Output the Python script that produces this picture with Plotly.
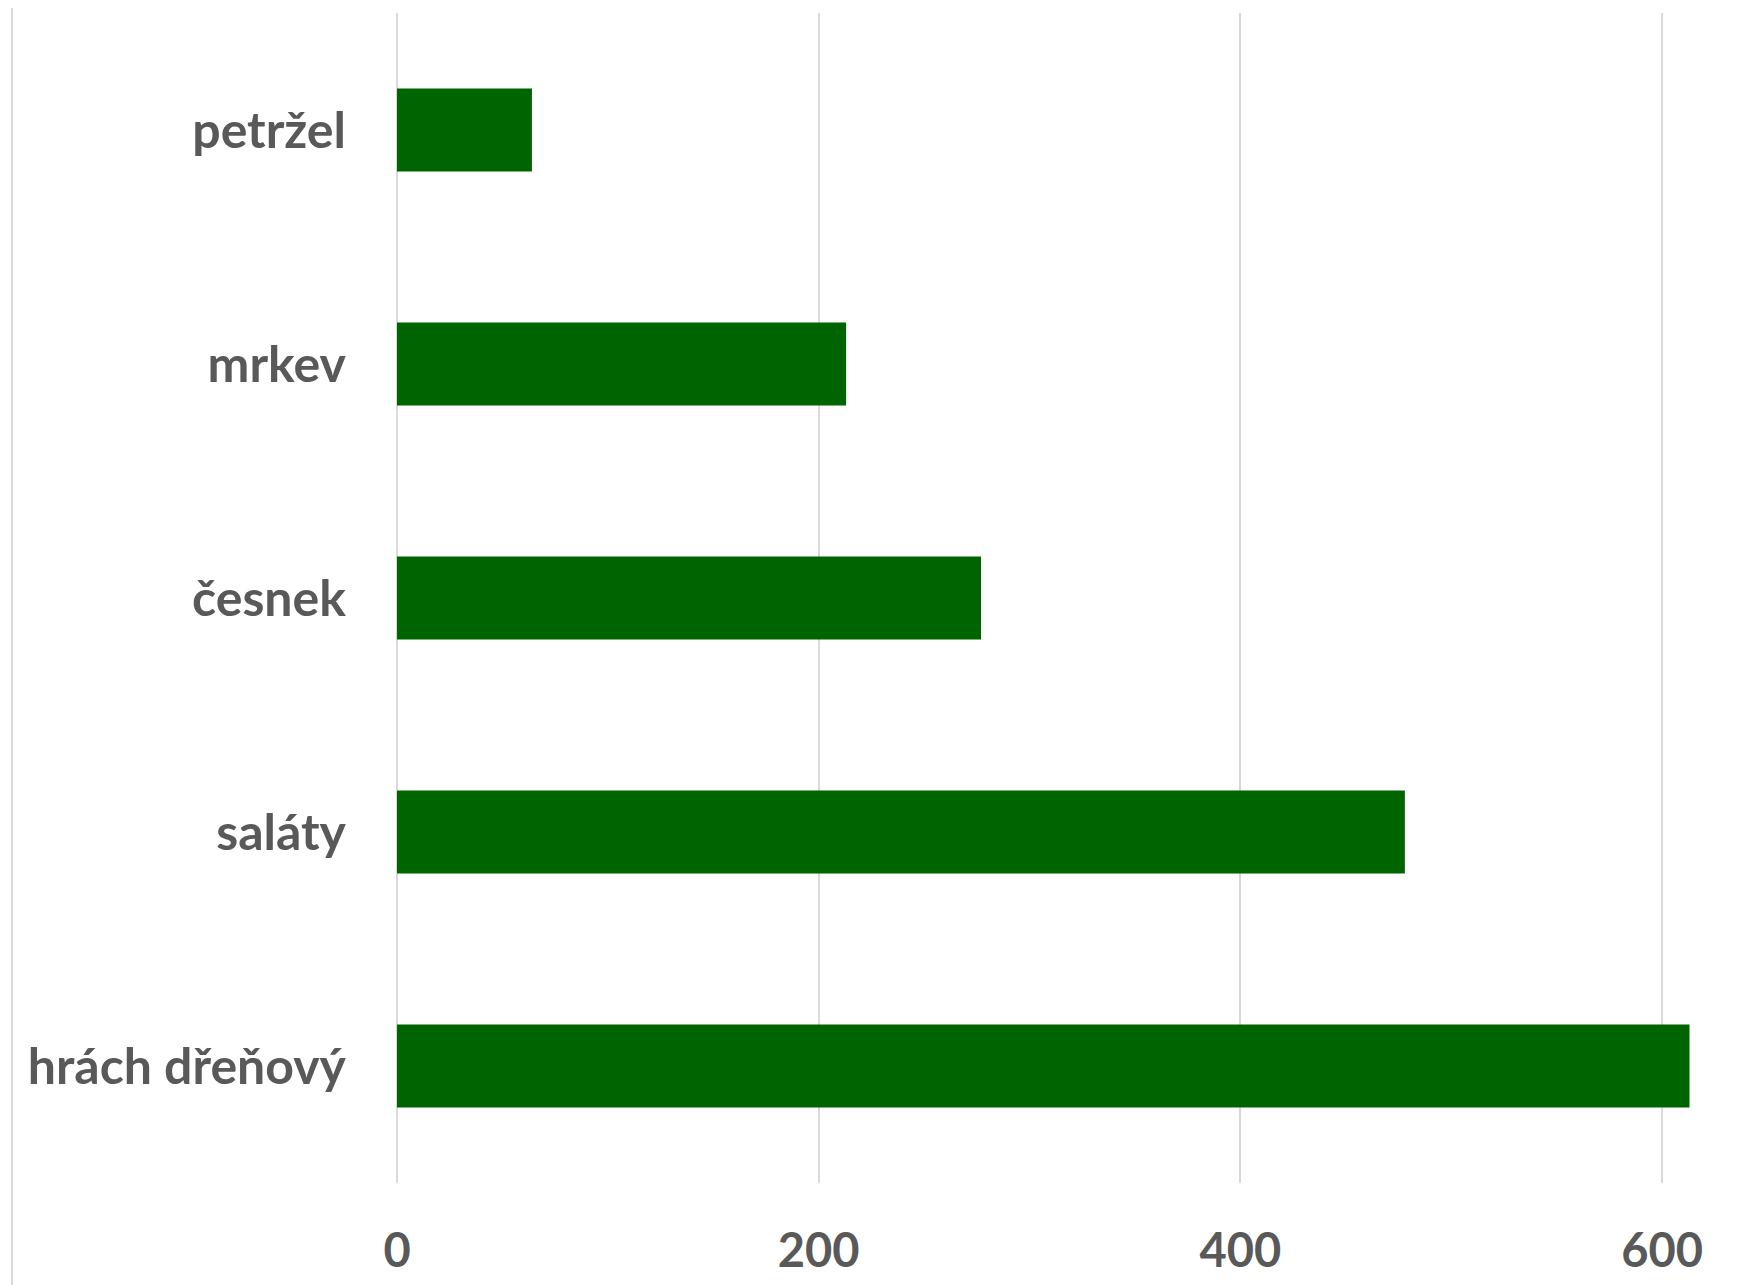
import plotly.graph_objects as go

categories = ["hrách dřeňový", "saláty", "česnek", "mrkev", "petržel"]
values = [613, 478, 277, 213, 64]
x_ticks = [0, 200, 400, 600]

W, H = 1744, 1285
# page body has an 8px margin, so positions are shifted back by 8
L, R, T, B = 389, 0, 5, 110
px_per_unit = 2.1085
x_max = (W - L - R) / px_per_unit

fig = go.Figure(go.Bar(
    y=categories, x=values, orientation="h",
    marker=dict(color="#006400", line=dict(width=0)),
))

font_fam = "Lato, 'Open Sans', sans-serif"
fig.update_layout(
    width=W, height=H,
    margin=dict(l=L, r=R, t=T, b=B, pad=0),
    paper_bgcolor="white", plot_bgcolor="white",
    bargap=0.645,
    showlegend=False,
    font=dict(family=font_fam, color="#595959"),
)
fig.update_xaxes(
    range=[0, x_max], tickvals=x_ticks,
    showgrid=True, gridcolor="#d9d9d9", gridwidth=2,
    zeroline=True, zerolinecolor="#d9d9d9", zerolinewidth=2,
    showline=False, ticks="",
    tickfont=dict(size=47, family=font_fam, color="#595959", weight="bold"),
    ticklabelstandoff=36,
)
fig.update_yaxes(
    showgrid=False, zeroline=False, showline=False, ticks="",
    tickfont=dict(size=50, family=font_fam, color="#595959", weight="bold"),
    ticklabelstandoff=50,
)
fig.add_shape(
    type="line", xref="paper", yref="paper",
    x0=(4 - L) / (W - L - R), x1=(4 - L) / (W - L - R),
    y0=-B / (H - T - B), y1=1 + T / (H - T - B),
    line=dict(color="#d9d9d9", width=2),
)
fig.write_html("out.html")
